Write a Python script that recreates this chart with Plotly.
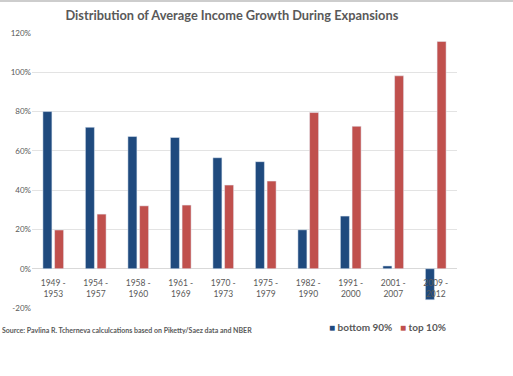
import plotly.graph_objects as go

categories = ["1949 -<br>1953", "1954 -<br>1957", "1958 -<br>1960", "1961 -<br>1969",
              "1970 -<br>1973", "1975 -<br>1979", "1982 -<br>1990", "1991 -<br>2000",
              "2001 -<br>2007", "2009 -<br>2012"]
bottom90 = [80, 72, 67.3, 66.8, 56.5, 54.5, 19.8, 26.8, 1.4, -15.8]
top10 = [19.7, 27.8, 32.0, 32.4, 42.6, 44.6, 79.5, 72.5, 98.2, 115.7]
tick_vals = [-20, 0, 20, 40, 60, 80, 100, 120]
tick_text = ["-20%", "0%", "20%", "40%", "60%", "80%", "100%", "120%"]
series_names = ["bottom 90%", "top 10%"]
series_colors = ["#1F4A7E", "#C0504D"]
y_range = [-20, 120]

font_fam = "Lato, 'Open Sans', sans-serif"
grey = "#595959"

fig = go.Figure()
fig.add_trace(go.Bar(x=categories, y=bottom90, name=series_names[0], marker_color=series_colors[0]))
fig.add_trace(go.Bar(x=categories, y=top10, name=series_names[1], marker_color=series_colors[1]))

fig.update_layout(
    width=513, height=376,
    margin=dict(l=32, r=56, t=33, b=68),
    paper_bgcolor="white", plot_bgcolor="white",
    barmode="group", bargap=0.45, bargroupgap=0.23,
    title=dict(text="<b>Distribution of Average Income Growth During Expansions</b>",
               x=0.452, xanchor="center", y=0.96, yanchor="middle",
               font=dict(family=font_fam, size=12.8, color=grey)),
    font=dict(family=font_fam, color=grey, size=8),
    showlegend=False,
)
# category axis crosses at value 0, like the original
zero_pos = (0 - y_range[0]) / (y_range[1] - y_range[0])
fig.update_xaxes(showgrid=False, showline=False, ticks="", anchor="free", position=zero_pos,
                 ticklabelstandoff=8, tickfont=dict(size=8.5, color=grey))
fig.update_yaxes(range=y_range, tickvals=tick_vals, ticktext=tick_text,
                 showgrid=True, gridcolor="#e3e3e3", gridwidth=1,
                 zeroline=True, zerolinecolor="#d9d9d9", zerolinewidth=1,
                 showline=False, tickfont=dict(size=8, color=grey))
legend_text = (f"<span style='color:{series_colors[0]}'>■</span> <b>{series_names[0]}</b>"
               f"   <span style='color:{series_colors[1]}'>■</span> <b>{series_names[1]}</b>")
fig.add_annotation(text=legend_text, xref="paper", yref="paper", x=0.694, y=-0.069,
                   xanchor="left", yanchor="middle", showarrow=False,
                   font=dict(family=font_fam, size=10, color=grey))
fig.add_annotation(text="<b>Source: Pavlina R. Tcherneva calculcations based on Piketty/Saez data and NBER</b>",
                   xref="paper", yref="paper", x=-0.075, y=-0.08, xanchor="left", yanchor="middle",
                   showarrow=False, font=dict(family=font_fam, size=7, color=grey))
fig.add_shape(type="line", xref="paper", yref="paper", x0=-0.1, x1=1.2, y0=1.1164, y1=1.1164,
              line=dict(color="#bdbdbd", width=1.5))
fig.write_html("out.html", config={"displayModeBar": False},
               post_script="document.body.style.margin='0';document.body.style.padding='0';")
